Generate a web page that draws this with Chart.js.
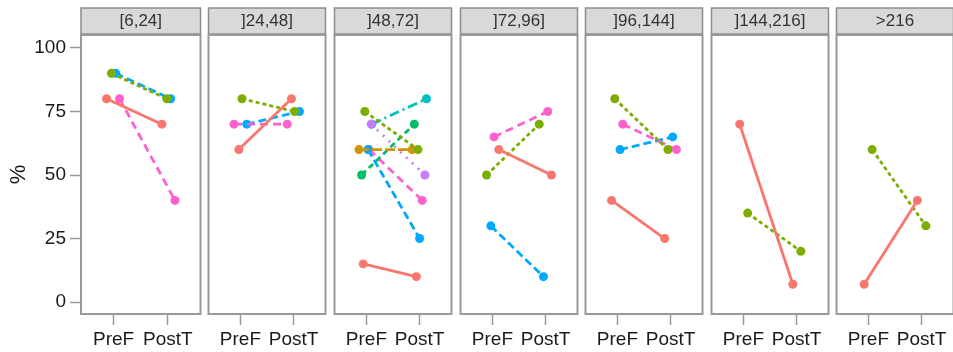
<!DOCTYPE html>
<html>
<head>
<meta charset="utf-8">
<script src="https://cdn.jsdelivr.net/npm/chart.js@4"></script>
<style>
  body { margin: 0; background: #fff; overflow: hidden; }
  #wrap { position: relative; width: 953px; height: 352px; overflow: hidden; }
  #wrap canvas { position: absolute; top: 0; }
</style>
</head>
<body>
<div id="wrap"></div>
<script>
// facet labels and x categories
var facetLabels = ['[6,24]', ']24,48]', ']48,72]', ']72,96]', ']96,144]', ']144,216]', '>216'];
var timeLabels = ['PreF', 'PostT'];
var yTicks = [0, 25, 50, 75, 100];

// group of every line in each facet (1 red .. 8 pink); earlier lines end up on top
var lineGroup = [[1, 8, 3, 6], [1, 3, 8, 6], [1, 3, 2, 4, 7, 5, 6, 8], [1, 8, 3, 6], [1, 3, 8, 6], [1, 3], [1, 3]];
var preValues = [[80, 80, 90, 90], [60, 80, 70, 70], [15, 75, 60, 50, 70, 70, 60, 60], [60, 65, 50, 30], [40, 80, 70, 60], [70, 35], [7, 60]];
var postValues = [[70, 40, 80, 80], [80, 75, 70, 75], [10, 60, 60, 70, 50, 80, 25, 40], [50, 75, 70, 10], [25, 60, 60, 65], [7, 20], [40, 30]];
// jittered x positions (PreF = 1, PostT = 2)
var preX = [[0.87, 1.11, 0.96, 1.04], [0.97, 1.03, 0.88, 1.12], [0.94, 0.97, 0.86, 0.91, 1.09, 1.10, 1.03, 1.05], [1.12, 1.03, 0.89, 0.97], [0.89, 0.95, 1.10, 1.05], [0.93, 1.08], [0.92, 1.07]];
var postX = [[1.89, 2.13, 1.98, 2.05], [1.96, 2.02, 1.88, 2.11], [1.94, 1.97, 1.86, 1.90, 2.10, 2.13, 2.00, 2.05], [2.11, 2.04, 1.88, 1.96], [1.89, 1.95, 2.11, 2.04], [1.93, 2.08], [1.92, 2.08]];

// styles
var groupColors = ['#F8766D', '#CD9600', '#7CAE00', '#00BE67', '#00BFC4', '#00A9FF', '#C77CFF', '#FF61CC'];
var groupDash = [[], [10, 3], [4, 3], [6, 4], [10, 4, 2, 4], [8, 4], [2, 6], [8, 5]];
var panelLeft = [81, 206, 332, 458, 583, 709, 834];
var panelW = 122;
var font = "'Liberation Sans', Arial, Helvetica, sans-serif";

var stripPlugin = {
    id: 'strip',
    afterDraw: function(chart, args, opts) {
        var ctx = chart.ctx;
        var a = chart.chartArea;
        ctx.save();
        ctx.fillStyle = '#d9d9d9';
        ctx.fillRect(a.left, 8, a.right - a.left, 26);
        ctx.strokeStyle = '#8c8c8c';
        ctx.lineWidth = 1.5;
        ctx.strokeRect(a.left, 8, a.right - a.left, 26);
        ctx.fillStyle = '#333333';
        ctx.font = '17px ' + font;
        ctx.textAlign = 'center';
        ctx.textBaseline = 'middle';
        ctx.fillText(opts.label, (a.left + a.right) / 2, 21.5);
        ctx.strokeStyle = '#999999';
        ctx.lineWidth = 2;
        ctx.strokeRect(a.left, a.top, a.right - a.left, a.bottom - a.top);
        ctx.restore();
    }
};

var wrap = document.getElementById('wrap');

for (var p = 0; p < facetLabels.length; p++) {
    var first = (p === 0);
    var canvas = document.createElement('canvas');
    var cLeft = first ? 0 : panelLeft[p] - 2;
    var cWidth = first ? panelLeft[0] + panelW + 2 : panelW + 4;
    canvas.width = cWidth;
    canvas.height = 352;
    canvas.style.left = cLeft + 'px';
    canvas.style.width = cWidth + 'px';
    canvas.style.height = '352px';
    wrap.appendChild(canvas);

    var datasets = [];
    for (var i = 0; i < lineGroup[p].length; i++) {
        var g = lineGroup[p][i] - 1;
        datasets.push({
            data: [{ x: preX[p][i], y: preValues[p][i] }, { x: postX[p][i], y: postValues[p][i] }],
            borderColor: groupColors[g],
            backgroundColor: groupColors[g],
            borderDash: groupDash[g],
            borderWidth: 2.8,
            pointRadius: 4.5,
            pointBorderWidth: 0,
            pointHoverRadius: 4.5,
            tension: 0
        });
    }

    new Chart(canvas, {
        type: 'line',
        data: { datasets: datasets },
        plugins: [stripPlugin],
        options: {
            responsive: false,
            devicePixelRatio: 1,
            animation: false,
            events: [],
            layout: { padding: { left: first ? 0 : 2, right: 2, top: 35, bottom: 0 } },
            plugins: {
                legend: { display: false },
                tooltip: { enabled: false },
                strip: { label: facetLabels[p] }
            },
            scales: {
                x: {
                    type: 'linear',
                    min: 0.4,
                    max: 2.6,
                    afterBuildTicks: function(s) { s.ticks = [{ value: 1 }, { value: 2 }]; },
                    afterFit: function(s) { s.height = 38; },
                    grid: { drawOnChartArea: false, drawTicks: true, tickLength: 11, tickColor: '#999999', tickWidth: 1.5 },
                    border: { display: false },
                    ticks: {
                        padding: 3,
                        color: '#1a1a1a',
                        font: { size: 19, family: font },
                        maxRotation: 0,
                        autoSkip: false,
                        callback: function(v) { return timeLabels[v - 1]; }
                    }
                },
                y: {
                    display: first,
                    min: -4.7,
                    max: 105.1,
                    afterBuildTicks: function(s) { s.ticks = yTicks.map(function(v) { return { value: v }; }); },
                    afterFit: first ? function(s) { s.width = 81; } : undefined,
                    grid: { drawOnChartArea: false, drawTicks: true, tickLength: 11, tickColor: '#999999', tickWidth: 1.5 },
                    border: { display: false },
                    title: { display: true, text: '%', color: '#1a1a1a', font: { size: 22, family: font }, padding: 6 },
                    ticks: {
                        padding: 4,
                        color: '#1a1a1a',
                        font: { size: 19, family: font }
                    }
                }
            }
        }
    });
}
</script>
</body>
</html>
